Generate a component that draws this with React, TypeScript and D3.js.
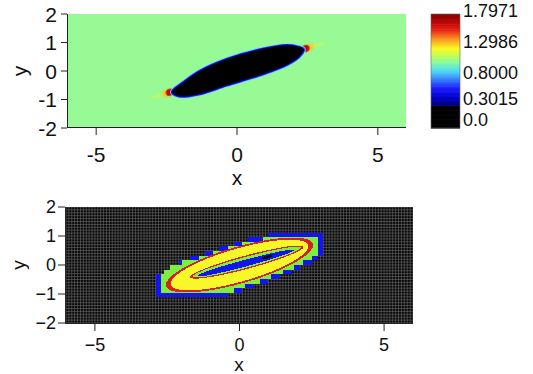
import React, { useMemo } from "react";
import * as d3 from "d3";

// ---- shared axes ----
const xDomain: [number, number] = [-6, 6];
const yDomain: [number, number] = [-2, 2];
const xTicks = [-5, 0, 5];
const yTicks = [-2, -1, 0, 1, 2];

// ---- colour bar ----
const colorbarMax = 1.7971;
const colorbarTicks = [1.7971, 1.2986, 0.8, 0.3015, 0.0];
const colorbarLabels = ["1.7971", "1.2986", "0.8000", "0.3015", "0.0"];
const blackBelow = 0.36;
const stopValues = [0.36, 0.49, 0.63, 0.79, 0.91, 1.04, 1.15, 1.26, 1.39, 1.55, 1.68, 1.7971];
const stopColors = [
  "#00007a", "#0000c8", "#1c1cff", "#3a8cff", "#4fdcf0", "#86fca0",
  "#c4fc54", "#fafa20", "#fca424", "#ea2414", "#b80606", "#800000",
];

// ---- top field: level region and its tips ----
const fieldBackground = "#98fa94";
const blobOutline: [number, number][] = [
  [-2.3, -0.74], [-2.05, -0.88], [-1.31, -0.8], [-0.37, -0.5], [0.82, -0.14],
  [1.76, 0.22], [2.2, 0.5], [2.36, 0.76], [2.15, 0.85], [1.76, 0.9],
  [0.82, 0.75], [-0.37, 0.41], [-1.31, 0.0], [-1.9, -0.4],
];
const tipPoints: [number, number][] = [[-2.33, -0.73], [2.38, 0.77]];

// ---- bottom field: banded regions ----
const outerBlue: [number, number][] = [
  [-2.85, -1.15], [-2.85, -0.4], [-2.5, -0.12], [-1.93, 0.17], [-1.0, 0.46],
  [0.03, 0.8], [1.3, 1.13], [2.88, 1.13], [2.88, 0.38], [2.5, 0.1],
  [1.93, -0.19], [1.0, -0.55], [-0.66, -1.15],
];
const outerGreen: [number, number][] = [
  [-2.72, -1.03], [-2.72, -0.33], [-2.4, -0.06], [-1.9, 0.1], [-1.0, 0.37],
  [0.03, 0.69], [1.3, 1.01], [2.74, 1.01], [2.74, 0.42], [2.4, 0.16],
  [1.9, -0.1], [1.0, -0.43], [-0.6, -1.03],
];
// nested ellipses, outermost first: centre x, centre y, angle (deg), semi-axes
const bandNames = ["redOuter", "yellow", "redInner", "greenInner", "blueCore", "gap"];
const bandCx = [0, 0, 0.25, 0.25, 0.22, 0.95];
const bandCy = [0, 0, 0.1, 0.1, 0.07, 0.27];
const bandAngle = [16, 16, 15, 15, 15, 15];
const bandA = [2.64, 2.47, 2.03, 1.93, 1.74, 0.2];
const bandB = [0.63, 0.57, 0.23, 0.185, 0.115, 0.05];
const bandColors = ["#d8201e", "#f7f72a", "#d8201e", "#7cf03c", "#1414f0", "#0c0c0c"];
const blueColor = "#1414f0";
const greenColor = "#7cf03c";

const font = "'Liberation Sans', Arial, Helvetica, sans-serif";

function inBand(i: number, x: number, y: number) {
  const t = (bandAngle[i] * Math.PI) / 180;
  const dx = x - bandCx[i];
  const dy = y - bandCy[i];
  const u = dx * Math.cos(t) + dy * Math.sin(t);
  const v = -dx * Math.sin(t) + dy * Math.cos(t);
  return (u / bandA[i]) ** 2 + (v / bandB[i]) ** 2 <= 1;
}

export default function App() {
  const xTop = d3.scaleLinear().domain(xDomain).range([68, 406]);
  const yTop = d3.scaleLinear().domain(yDomain).range([128, 14]);
  const xBot = d3.scaleLinear().domain(xDomain).range([66, 413]);
  const yBot = d3.scaleLinear().domain(yDomain).range([323, 207]);
  const cb = d3.scaleLinear().domain([0, colorbarMax]).range([128, 14]);
  const cmap = d3.scaleLinear<string>().domain(stopValues).range(stopColors).clamp(true);
  const colorAt = (v: number) => (v < blackBelow ? "#000000" : cmap(v));

  const blobPath = d3
    .line<[number, number]>()
    .x((d) => xTop(d[0]))
    .y((d) => yTop(d[1]))
    .curve(d3.curveCatmullRomClosed.alpha(0.5))(blobOutline) as string;

  // tip direction along the long axis
  const dirPx = (() => {
    const ax = xTop(tipPoints[1][0]) - xTop(tipPoints[0][0]);
    const ay = yTop(tipPoints[1][1]) - yTop(tipPoints[0][1]);
    const n = Math.hypot(ax, ay);
    return [ax / n, ay / n];
  })();
  const tipAngle = (Math.atan2(dirPx[1], dirPx[0]) * 180) / Math.PI;

  // colour bar strips
  const cbSteps = 90;
  const cbStrips = d3.range(cbSteps).map((i) => {
    const v0 = (i / cbSteps) * colorbarMax;
    const v1 = ((i + 1) / cbSteps) * colorbarMax;
    return { y: cb(v1), h: cb(v0) - cb(v1) + 0.6, c: colorAt((v0 + v1) / 2) };
  });
  const cbLabelY: number[] = [];
  {
    let limit = 126;
    for (let i = colorbarTicks.length - 1; i >= 0; i--) {
      const y = Math.max(17, Math.min(cb(colorbarTicks[i]) + 2, limit));
      cbLabelY[i] = y;
      limit = y - 21;
    }
  }

  // bottom field: mesh and rasterised bands
  const bottom = useMemo(() => {
    const mesh: string[] = [];
    for (let i = 0; i <= 120; i++) {
      const x = xBot(-6 + i * 0.1);
      mesh.push(`M${x.toFixed(2)},207V323`);
    }
    for (let j = 0; j <= 40; j++) {
      const y = yBot(-2 + j * 0.1);
      mesh.push(`M66,${y.toFixed(2)}H413`);
    }
    // coarse outer layers
    const coarse: Record<string, string[]> = { [blueColor]: [], [greenColor]: [] };
    const cdx = 0.1, cdy = 0.16;
    for (let k = 0; k < 60; k++) {
      const gx = -3 + k * cdx;
      for (let m = 0; m < 16; m++) {
        const gy = -1.28 + m * cdy;
        const cx = gx + cdx / 2, cy = gy + cdy / 2;
        let col: string | null = null;
        if (d3.polygonContains(outerGreen, [cx, cy])) col = greenColor;
        else if (d3.polygonContains(outerBlue, [cx, cy])) col = blueColor;
        if (!col) continue;
        const x0 = xBot(gx), x1 = xBot(gx + cdx);
        const y0 = yBot(gy + cdy), y1 = yBot(gy);
        coarse[col].push(`M${x0.toFixed(2)},${y0.toFixed(2)}H${x1.toFixed(2)}V${y1.toFixed(2)}H${x0.toFixed(2)}Z`);
      }
    }
    // fine inner bands, one pixel per cell, run-length per row
    const fine: string[][] = bandColors.map(() => []);
    for (let py = 225; py < 300; py++) {
      let runStart = -1;
      let runBand = -1;
      const flush = (end: number) => {
        if (runBand >= 0) fine[runBand].push(`M${runStart},${py}H${end}V${py + 1}H${runStart}Z`);
      };
      for (let px = 150; px < 330; px++) {
        const x = xBot.invert(px + 0.5);
        const y = yBot.invert(py + 0.5);
        let b = -1;
        for (let i = 0; i < bandNames.length; i++) {
          if (inBand(i, x, y)) b = i;
          else if (i < 5) break;
        }
        if (b !== runBand) {
          flush(px);
          runStart = px;
          runBand = b;
        }
      }
      flush(330);
    }
    return {
      mesh: mesh.join(""),
      blue: coarse[blueColor].join(""),
      green: coarse[greenColor].join(""),
      fine: fine.map((f) => f.join("")),
    };
  }, []);

  return (
    <svg
      width={533}
      height={374}
      style={{ position: "absolute", left: 0, top: 0, background: "#fff" }}
      fontFamily={font}
    >
      <defs>
        <filter id="soft" x="-20%" y="-20%" width="140%" height="140%">
          <feGaussianBlur stdDeviation="0.7" />
        </filter>
        <filter id="softer" x="-50%" y="-50%" width="200%" height="200%">
          <feGaussianBlur stdDeviation="1.3" />
        </filter>
        <linearGradient id="streak" x1="0" x2="1" y1="0" y2="0">
          <stop offset="0" stopColor="#f6f020" stopOpacity="0.95" />
          <stop offset="1" stopColor="#f6f020" stopOpacity="0" />
        </linearGradient>
        <clipPath id="topClip">
          <rect x={68} y={14} width={338} height={114} />
        </clipPath>
        <clipPath id="botClip">
          <rect x={66} y={207} width={347} height={116} />
        </clipPath>
      </defs>

      {/* ---------- top panel ---------- */}
      <g clipPath="url(#topClip)">
        <rect x={68} y={14} width={338} height={114} fill={fieldBackground} />
        {tipPoints.map((p, k) => {
          const s = k === 0 ? -1 : 1;
          const tx = xTop(p[0]);
          const ty = yTop(p[1]);
          return (
            <g key={k} transform={`translate(${tx},${ty}) rotate(${tipAngle + (s < 0 ? 180 : 0)})`}>
              <rect x={0} y={-1.5} width={26} height={3} fill="url(#streak)" filter="url(#soft)" />
              <ellipse cx={4} cy={0} rx={6} ry={3.6} fill="#f4c82c" filter="url(#softer)" />
              <ellipse cx={1.5} cy={0} rx={4.2} ry={3.4} fill="#c01008" filter="url(#soft)" />
            </g>
          );
        })}
        <path d={blobPath} fill="none" stroke="#70e6ea" strokeWidth={4.4} filter="url(#soft)" />
        <path d={blobPath} fill="none" stroke="#1c1cff" strokeWidth={2.8} filter="url(#soft)" />
        <path d={blobPath} fill="#000" stroke="#00005a" strokeWidth={0.8} />
      </g>
      <line x1={67.5} x2={67.5} y1={14} y2={128} stroke="#222" />
      <line x1={67} x2={406} y1={127.5} y2={127.5} stroke="#222" />
      {yTicks.map((t) => (
        <g key={`ty${t}`}>
          <line x1={61} x2={67} y1={yTop(t)} y2={yTop(t)} stroke="#222" />
          <text x={57} y={yTop(t)} fontSize={21} textAnchor="end" dominantBaseline="central" fill="#111">
            {String(t)}
          </text>
        </g>
      ))}
      {xTicks.map((t) => (
        <g key={`tx${t}`}>
          <line x1={xTop(t)} x2={xTop(t)} y1={128} y2={135} stroke="#222" />
          <text x={xTop(t)} y={162} fontSize={21} textAnchor="middle" fill="#111">
            {String(t)}
          </text>
        </g>
      ))}
      <text x={237} y={185} fontSize={21} textAnchor="middle" fill="#111">x</text>
      <text transform="translate(27,71) rotate(-90)" fontSize={21} textAnchor="middle" fill="#111">y</text>

      {/* colour bar */}
      <g>
        {cbStrips.map((s, i) => (
          <rect key={i} x={431} y={s.y} width={29} height={s.h} fill={s.c} />
        ))}
        <rect x={431} y={14} width={29} height={114} fill="none" stroke="#666" strokeWidth={0.6} />
        {colorbarTicks.map((t, i) => (
          <text key={t} x={463} y={cbLabelY[i]} fontSize={18} fill="#111">
            {colorbarLabels[i]}
          </text>
        ))}
      </g>

      {/* ---------- bottom panel ---------- */}
      <g clipPath="url(#botClip)">
        <rect x={66} y={207} width={347} height={116} fill="#060606" />
        <path d={bottom.mesh} stroke="#6e6e6e" strokeWidth={0.6} fill="none" />
        <path d={bottom.blue} fill={blueColor} shapeRendering="crispEdges" />
        <path d={bottom.green} fill={greenColor} shapeRendering="crispEdges" />
        {bottom.fine.map((d, i) => (
          <path key={i} d={d} fill={bandColors[i]} shapeRendering="crispEdges" />
        ))}
      </g>
      <line x1={65.5} x2={65.5} y1={207} y2={323} stroke="#222" />
      <line x1={65} x2={413} y1={323.5} y2={323.5} stroke="#222" />
      {yTicks.map((t) => (
        <g key={`by${t}`}>
          <line x1={58} x2={65} y1={yBot(t)} y2={yBot(t)} stroke="#222" />
          <text x={56} y={yBot(t)} fontSize={18} textAnchor="end" dominantBaseline="central" fill="#111">
            {d3.format("d")(t)}
          </text>
        </g>
      ))}
      {xTicks.map((t) => (
        <g key={`bx${t}`}>
          <line x1={xBot(t)} x2={xBot(t)} y1={324} y2={331} stroke="#222" />
          <text x={xBot(t)} y={351} fontSize={18} textAnchor="middle" fill="#111">
            {d3.format("d")(t)}
          </text>
        </g>
      ))}
      <text x={239} y={371} fontSize={19} textAnchor="middle" fill="#111">x</text>
      <text transform="translate(25,265) rotate(-90)" fontSize={19} textAnchor="middle" fill="#111">y</text>
    </svg>
  );
}
